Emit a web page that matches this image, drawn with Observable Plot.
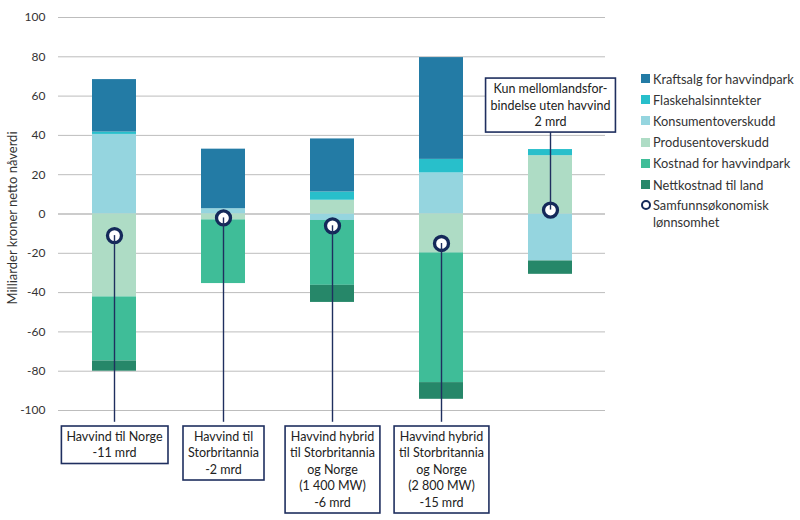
<!DOCTYPE html>
<html><head><meta charset="utf-8">
<script src="https://cdn.jsdelivr.net/npm/d3@7"></script>
<script src="https://cdn.jsdelivr.net/npm/@observablehq/plot@0.6"></script>
<style>
body{margin:0;background:#fff;font-family:Lato,"Open Sans",sans-serif;}
#wrap{position:relative;width:800px;height:520px;overflow:hidden;}
#legend{position:absolute;left:641px;top:68px;font-size:12.8px;color:#333;font-family:Lato,sans-serif;}
.item{display:flex;align-items:center;height:21.2px;white-space:nowrap;}
.sw{width:9px;height:9px;margin-right:3px;flex:none;}
.ring{width:6px;height:6px;border:2.5px solid #14295a;border-radius:50%;margin-right:2px;flex:none;background:#fff;}
.item.two{align-items:flex-start;height:auto;line-height:17px;margin-top:2px;}
.item.two .ring{margin-top:3px;}
#ylabel{position:absolute;left:12px;top:218px;transform:translate(-50%,-50%) rotate(-90deg);white-space:nowrap;font-size:13px;color:#333;font-family:Lato,sans-serif;line-height:1;}
</style></head><body>
<div id="wrap"><div id="chart"></div><div id="ylabel"></div><div id="legend"></div></div>
<script>
// --- data ---
const scenarios = ["Havvind til Norge", "Havvind til Storbritannia", "Hybrid 1 400 MW", "Hybrid 2 800 MW", "Kun mellomlandsforbindelse"];
const components = ["Kraftsalg for havvindpark", "Flaskehalsinntekter", "Konsumentoverskudd", "Produsentoverskudd", "Kostnad for havvindpark", "Nettkostnad til land"];
const componentColors = ["#237ba5", "#28bfcb", "#95d5df", "#aedcc5", "#3fbd98", "#268769"];
const kraftsalg   = [26.7, 30.3, 27.0, 51.8, 0];
const flaskehals  = [1.2, 0, 4.2, 6.9, 3.1];
const konsument   = [40.5, 2.7, -3.3, 20.9, -23.9];
const produsent   = [-42.2, -3.0, 7.0, -19.8, 29.7];
const kostnad     = [-32.6, -32.4, -33.0, -66.0, 0];
const nettkostnad = [-5.2, 0, -8.7, -8.5, -6.8];
const netto = [-11, -2, -6, -15, 2];
const labels = [
  "Havvind til Norge\n-11 mrd",
  "Havvind til\nStorbritannia\n-2 mrd",
  "Havvind hybrid\ntil Storbritannia\nog Norge\n(1 400 MW)\n-6 mrd",
  "Havvind hybrid\ntil Storbritannia\nog Norge\n(2 800 MW)\n-15 mrd",
  "Kun mellomlandsfor-\nbindelse uten havvind\n2 mrd"
];
const labelBelow = [true, true, true, true, false];
const labelAnchorValue = [-106, -106, -106, -106, 41.7];
const yTicks = [-100, -80, -60, -40, -20, 0, 20, 40, 60, 80, 100];
const yLabel = "Milliarder kroner netto nåverdi";

// stacking order (away from zero): Konsument, Produsent, Flaskehals, Kraftsalg, Kostnad, Nett
const series = {
  "Konsumentoverskudd": konsument,
  "Produsentoverskudd": produsent,
  "Flaskehalsinntekter": flaskehals,
  "Kraftsalg for havvindpark": kraftsalg,
  "Kostnad for havvindpark": kostnad,
  "Nettkostnad til land": nettkostnad
};
const rows = [];
for (const [comp, vals] of Object.entries(series)) {
  scenarios.forEach((s, i) => { if (vals[i] !== 0) rows.push({scenario: s, component: comp, value: vals[i]}); });
}
const pts = scenarios.map((s, i) => ({scenario: s, netto: netto[i], label: labels[i], below: labelBelow[i], anchor: labelAnchorValue[i]}));

const chart = Plot.plot({
  width: 800, height: 520,
  marginLeft: 58, marginRight: 195, marginTop: 17, marginBottom: 110,
  style: {fontFamily: "Lato, sans-serif", fontSize: "12px", color: "#333", background: "#fff"},
  x: {domain: scenarios, paddingInner: 0.6, paddingOuter: 0.3, axis: null},
  y: {domain: [-100, 100], ticks: yTicks, label: null, tickSize: 0, tickPadding: 13, tickFormat: d => String(d)},
  color: {domain: components, range: componentColors},
  marks: [
    Plot.gridY(yTicks.filter(d => d !== 0), {stroke: "#bdbdbd", strokeOpacity: 1, strokeWidth: 1}),
    Plot.ruleY([0], {stroke: "#9a9a9a", strokeWidth: 1.2}),
    Plot.barY(rows, Plot.stackY({x: "scenario", y: "value", fill: "component", order: null})),
    Plot.dot(pts, {x: "scenario", y: "netto", r: 7, fill: "white", stroke: "#14295a", strokeWidth: 3.3}),
    Plot.ruleX(pts, {x: "scenario", y1: "netto", y2: "anchor", stroke: "#1f2f5f", strokeWidth: 1.4}),
    Plot.text(pts.filter(d => d.below), {x: "scenario", y: "anchor", text: "label", lineAnchor: "top", dy: 7, lineHeight: 1.32, fontSize: 12.5, fill: "#222"}),
    Plot.text(pts.filter(d => !d.below), {x: "scenario", y: "anchor", text: "label", lineAnchor: "bottom", dy: -6, lineHeight: 1.32, fontSize: 12.5, fill: "#222"})
  ]
});
document.getElementById("chart").appendChild(chart);
document.getElementById("ylabel").textContent = yLabel;

// boxes behind annotation texts
const labelSet = new Set(labels.map(l => l.replace(/\n/g, "")));
d3.select(chart).selectAll("text").each(function() {
  if (!labelSet.has(this.textContent)) return;
  const b = this.getBBox();
  const tr = this.getAttribute("transform");
  const padX = 5, padY = 3;
  const r = document.createElementNS("http://www.w3.org/2000/svg", "rect");
  r.setAttribute("x", b.x - padX); r.setAttribute("y", b.y - padY);
  r.setAttribute("width", b.width + 2 * padX); r.setAttribute("height", b.height + 2 * padY);
  r.setAttribute("fill", "white"); r.setAttribute("stroke", "#1f2f5f"); r.setAttribute("stroke-width", "1.6");
  if (tr) r.setAttribute("transform", tr);
  this.parentNode.insertBefore(r, this);
});

// legend
const leg = d3.select("#legend");
components.forEach((c, i) => {
  const it = leg.append("div").attr("class", "item");
  it.append("div").attr("class", "sw").style("background", componentColors[i]);
  it.append("span").text(c);
});
const last = leg.append("div").attr("class", "item two");
last.append("div").attr("class", "ring");
last.append("span").html("Samfunnsøkonomisk<br>lønnsomhet");
</script>
</body></html>
